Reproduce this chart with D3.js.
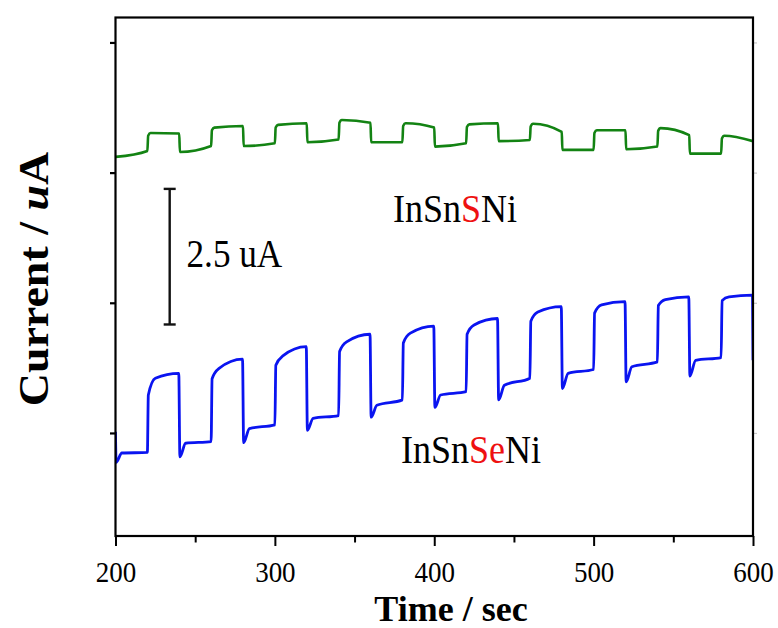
<!DOCTYPE html>
<html>
<head>
<meta charset="utf-8">
<script src="https://cdn.jsdelivr.net/npm/d3@7"></script>
<style>
  html, body { margin: 0; padding: 0; background: #fff; }
  svg { display: block; font-family: "Liberation Serif", "Times New Roman", serif; }
</style>
</head>
<body>
<svg id="chart" width="778" height="628"></svg>
<script>
// Chopped-light photocurrent: light on for 20 s, off for 20 s.
const lightOffTimes = [200, 240, 280, 320, 360, 400, 440, 480, 520, 560];
const lightOnTimes  = [220, 260, 300, 340, 380, 420, 460, 500, 540, 580];
const endTime = 600;

// InSnSNi (green), current in uA at the edges of each half-cycle
const greenOffStart = [5.09, 5.18, 5.29, 5.36, 5.36, 5.28, 5.38, 5.22, 5.23, 5.15];
const greenOffEnd   = [5.20, 5.29, 5.34, 5.41, 5.36, 5.34, 5.40, 5.22, 5.28, 5.15];
const greenOnStart  = [5.53, 5.63, 5.68, 5.77, 5.71, 5.69, 5.70, 5.58, 5.62, 5.48];
const greenOnEnd    = [5.52, 5.66, 5.71, 5.72, 5.63, 5.71, 5.55, 5.58, 5.49, 5.38];

// InSnSeNi (blue)
const blueBefore     = 0.02;   // level just before the first shutter close
const blueDip        = [-0.54, -0.44, -0.18, 0.05, 0.29, 0.47, 0.61, 0.82, 0.94, 1.05];
const blueOffRecover = [-0.37, -0.19, 0.08, 0.27, 0.51, 0.70, 0.88, 1.10, 1.22, 1.34];
const blueOffEnd     = [-0.36, -0.16, 0.15, 0.32, 0.61, 0.76, 1.01, 1.17, 1.31, 1.39];
const blueOnRise     = [0.70, 1.00, 1.25, 1.50, 1.66, 1.82, 2.06, 2.21, 2.35, 2.44];
const blueOnKnee     = [1.01, 1.19, 1.42, 1.68, 1.84, 1.99, 2.23, 2.36, 2.46, 2.51];
const blueOnEnd      = [1.10, 1.36, 1.59, 1.82, 1.97, 2.11, 2.33, 2.42, 2.51, 2.54];
const blueFinalDrop  = 1.34;

// Axes
const xDomain = [200, 600];
const xMajorTicks = [200, 300, 400, 500, 600];
const xMinorTicks = [250, 350, 450, 550];
const yDomain = [-1.9, 7.66];
const yTicks = [0, 2.4, 4.8, 7.2];

// Scale bar
const scaleBarTime = 234;
const scaleBarRange = [2.0, 4.5];
const scaleBarLabel = "2.5 uA";

const svg = d3.select("#chart");
const margin = { left: 115.5, right: 25, top: 17.5, bottom: 92 };
const W = 778, H = 628;

const x = d3.scaleLinear().domain(xDomain).range([margin.left, W - margin.right]);
const y = d3.scaleLinear().domain(yDomain).range([H - margin.bottom, margin.top]);

// Build traces
const greenPts = [];
lightOffTimes.forEach((t, i) => {
  const on = lightOnTimes[i];
  if (i > 0) greenPts.push([t + 0.4, greenOffStart[i]]);
  else greenPts.push([t, greenOffStart[i]]);
  greenPts.push([on, greenOffEnd[i]]);
  greenPts.push([on + 0.5, greenOnStart[i] - 0.05]);
  greenPts.push([on + 2, greenOnStart[i]]);
  greenPts.push([on + 20, greenOnEnd[i]]);
});

const bluePts = [[200, blueBefore]];
lightOffTimes.forEach((t, i) => {
  const on = lightOnTimes[i];
  bluePts.push([t + 0.4, blueDip[i]]);
  bluePts.push([t + 4, blueOffRecover[i]]);
  bluePts.push([on, blueOffEnd[i]]);
  bluePts.push([on + 0.6, blueOnRise[i]]);
  bluePts.push([on + 5, blueOnKnee[i]]);
  bluePts.push([on + 19.7, blueOnEnd[i]]);
});
bluePts.push([endTime, blueFinalDrop]);

const line = d3.line()
  .x(d => x(d[0]))
  .y(d => y(d[1]))
  .curve(d3.curveMonotoneX);

svg.append("defs").append("clipPath").attr("id", "plotClip")
  .append("rect")
  .attr("x", x(200)).attr("y", y(yDomain[1]))
  .attr("width", x(600) - x(200)).attr("height", y(yDomain[0]) - y(yDomain[1]));

const plot = svg.append("g").attr("clip-path", "url(#plotClip)");

plot.append("path").datum(greenPts)
  .attr("d", line)
  .attr("fill", "none")
  .attr("stroke", "#138313")
  .attr("stroke-width", 2.6)
  .attr("stroke-linejoin", "round");

plot.append("path").datum(bluePts)
  .attr("d", line)
  .attr("fill", "none")
  .attr("stroke", "#0a14f0")
  .attr("stroke-width", 2.8)
  .attr("stroke-linejoin", "round");

// Bottom axis: major ticks with labels, minor ticks without
const bottomY = y(yDomain[0]);
const xAxisMajor = svg.append("g").attr("transform", `translate(0,${bottomY})`)
  .call(d3.axisBottom(x).tickValues(xMajorTicks).tickSize(10).tickFormat(d3.format("d")));
xAxisMajor.select(".domain").remove();
xAxisMajor.selectAll(".tick line").attr("stroke", "#000").attr("stroke-width", 2);
xAxisMajor.selectAll(".tick text")
  .attr("y", 0).attr("dy", 0)
  .attr("transform", "translate(0,46) scale(0.9,1)")
  .attr("font-family", "Liberation Serif, serif")
  .attr("font-size", 30)
  .attr("fill", "#000");

const xAxisMinor = svg.append("g").attr("transform", `translate(0,${bottomY})`)
  .call(d3.axisBottom(x).tickValues(xMinorTicks).tickSize(6.5).tickFormat(""));
xAxisMinor.select(".domain").remove();
xAxisMinor.selectAll(".tick line").attr("stroke", "#000").attr("stroke-width", 2);

// Left axis: unlabelled ticks
const yAxisLeft = svg.append("g").attr("transform", `translate(${x(200)},0)`)
  .call(d3.axisLeft(y).tickValues(yTicks).tickSize(5.5).tickFormat(""));
yAxisLeft.select(".domain").remove();
yAxisLeft.selectAll(".tick line").attr("stroke", "#000").attr("stroke-width", 2.2);

// Right side: faint ticks
const yAxisRight = svg.append("g").attr("transform", `translate(${x(600)},0)`)
  .call(d3.axisRight(y).tickValues(yTicks).tickSize(4).tickFormat(""));
yAxisRight.select(".domain").remove();
yAxisRight.selectAll(".tick line").attr("stroke", "#c8c8c8").attr("stroke-width", 1.2);

// Frame
svg.append("rect")
  .attr("x", x(200)).attr("y", y(yDomain[1]))
  .attr("width", x(600) - x(200)).attr("height", y(yDomain[0]) - y(yDomain[1]))
  .attr("fill", "none").attr("stroke", "#000").attr("stroke-width", 2.2);

// Scale bar
const sbx = x(scaleBarTime);
const sb = svg.append("g").attr("stroke", "#111").attr("stroke-width", 2.4);
sb.append("line").attr("x1", sbx).attr("x2", sbx).attr("y1", y(scaleBarRange[0])).attr("y2", y(scaleBarRange[1]));
sb.append("line").attr("x1", sbx - 6).attr("x2", sbx + 6).attr("y1", y(scaleBarRange[0])).attr("y2", y(scaleBarRange[0]));
sb.append("line").attr("x1", sbx - 6).attr("x2", sbx + 6).attr("y1", y(scaleBarRange[1])).attr("y2", y(scaleBarRange[1]));

svg.append("g").attr("transform", "translate(186.5,266.5) scale(0.88,1)")
  .append("text").attr("font-size", 40).attr("fill", "#000").text(scaleBarLabel);

// Sample labels, with the chalcogen in red
function sampleLabel(tx, ty, parts) {
  const t = svg.append("g").attr("transform", `translate(${tx},${ty}) scale(0.9,1)`)
    .append("text").attr("font-size", 40);
  parts.forEach(p => t.append("tspan").attr("fill", p[1]).text(p[0]));
}
sampleLabel(393, 222, [["InSn", "#000"], ["S", "#ee1111"], ["Ni", "#000"]]);
sampleLabel(401, 463, [["InSn", "#000"], ["Se", "#ee1111"], ["Ni", "#000"]]);

// Axis titles
svg.append("text")
  .attr("x", 451).attr("y", 621)
  .attr("text-anchor", "middle")
  .attr("font-size", 36).attr("font-weight", "bold").attr("fill", "#000")
  .text("Time / sec");

const yTitle = svg.append("text")
  .attr("transform", "translate(48,279) rotate(-90) scale(1,0.92)")
  .attr("text-anchor", "middle")
  .attr("font-size", 46).attr("font-weight", "bold").attr("fill", "#000");
yTitle.append("tspan").text("Current / ");
yTitle.append("tspan").attr("font-style", "italic").text("u");
yTitle.append("tspan").text("A");
</script>
</body>
</html>
